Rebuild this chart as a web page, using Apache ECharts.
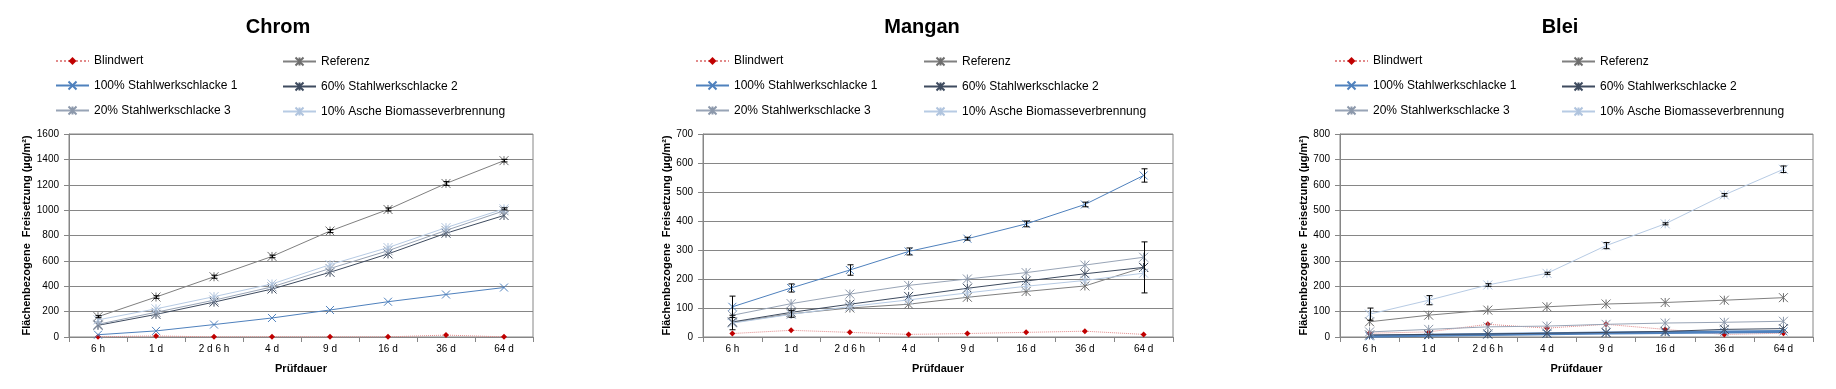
<!DOCTYPE html>
<html>
<head>
<meta charset="utf-8">
<script src="https://cdn.jsdelivr.net/npm/echarts@6/dist/echarts.min.js"></script>
<style>
html,body{margin:0;padding:0;background:#fff;}
#main{width:1836px;height:389px;}
</style>
</head>
<body>
<div id="main"></div>
<script>
// ---------- DATA ----------
const categories = ['6 h', '1 d', '2 d 6 h', '4 d', '9 d', '16 d', '36 d', '64 d'];
const seriesNames = ['Blindwert', 'Referenz', '100% Stahlwerkschlacke 1', '60% Stahlwerkschlacke 2', '20% Stahlwerkschlacke 3', '10% Asche Biomasseverbrennung'];
const chartTitles = ['Chrom', 'Mangan', 'Blei'];
const yMax = [1600, 700, 800];
const yInterval = [200, 100, 100];

// Chrom
const chromBlindwert = [2, 8, 1, 2, 1, 1, 15, 1];
const chromReferenz = [160, 315, 475, 635, 835, 1005, 1210, 1390];
const chromSWS1 = [18, 48, 98, 150, 213, 278, 335, 390];
const chromSWS2 = [92, 178, 275, 378, 510, 655, 818, 958];
const chromSWS3 = [100, 195, 290, 395, 540, 680, 840, 995];
const chromAsche = [135, 222, 318, 418, 570, 705, 862, 1010];
const chromErrReferenz = [8, 10, 12, 10, 12, 12, 15, 10];
const chromErrAsche = [0, 0, 0, 0, 0, 0, 0, 8];

// Mangan
const manBlindwert = [12, 23, 16, 9, 12, 16, 20, 9];
const manReferenz = [50, 80, 100, 113, 137, 157, 176, 240];
const manSWS1 = [104, 169, 231, 295, 339, 390, 457, 557];
const manSWS2 = [52, 85, 113, 140, 168, 193, 218, 240];
const manSWS3 = [75, 115, 148, 178, 200, 222, 248, 275];
const manAsche = [48, 78, 105, 128, 152, 175, 195, 220];
const manErrSWS1 = [37, 14, 18, 12, 5, 10, 8, 23];
const manErrReferenz = [25, 12, 0, 0, 0, 0, 0, 88];

// Blei
const bleiBlindwert = [15, 20, 50, 35, 50, 30, 10, 15];
const bleiReferenz = [60, 86, 106, 119, 130, 136, 145, 155];
const bleiSWS1 = [3, 7, 10, 13, 16, 18, 20, 22];
const bleiSWS2 = [8, 10, 12, 15, 18, 22, 30, 33];
const bleiSWS3 = [20, 30, 40, 43, 50, 55, 58, 62];
const bleiAsche = [90, 145, 205, 251, 360, 446, 560, 661];
const bleiErrAsche = [24, 18, 5, 4, 12, 4, 5, 13];

const chartData = [
  [chromBlindwert, chromReferenz, chromSWS1, chromSWS2, chromSWS3, chromAsche],
  [manBlindwert, manReferenz, manSWS1, manSWS2, manSWS3, manAsche],
  [bleiBlindwert, bleiReferenz, bleiSWS1, bleiSWS2, bleiSWS3, bleiAsche]
];
const chartErrors = [
  [[chromReferenz, chromErrReferenz], [chromAsche, chromErrAsche]],
  [[manSWS1, manErrSWS1], [manReferenz, manErrReferenz]],
  [[bleiAsche, bleiErrAsche]]
];

// ---------- STYLE / LAYOUT ----------
const FONT = 'Liberation Sans';
const gridPos = [
  {left: 69, width: 464},
  {left: 703, width: 470},
  {left: 1340, width: 473}
];
const titleX = [273, 917, 1555];
const legendX = [[55, 282], [695, 923], [1334, 1561]];
const yNameGap = [37, 31, 29];

const STAR = 'path://M0,0L10,10M10,0L0,10M5,0L5,10';
const XMARK = 'path://M0,0L10,10M10,0L0,10';
const styles = [
  {line: '#E28A8A', mark: '#C00000', symbol: 'diamond', size: 6, type: 'dotted', fill: true},
  {line: '#808080', mark: '#6E6E6E', symbol: STAR, size: 9, type: 'solid'},
  {line: '#4F81BD', mark: '#4F81BD', symbol: XMARK, size: 8, type: 'solid'},
  {line: '#3E4B5F', mark: '#3E4B5F', symbol: STAR, size: 9, type: 'solid'},
  {line: '#98A4B6', mark: '#8C98AB', symbol: STAR, size: 9, type: 'solid'},
  {line: '#B7CBE4', mark: '#B0C4DE', symbol: STAR, size: 9, type: 'solid'}
];

const option = {
  animation: false,
  backgroundColor: '#fff',
  textStyle: {fontFamily: FONT},
  title: [], legend: [], grid: [], xAxis: [], yAxis: [], series: []
};

for (let c = 0; c < 3; c++) {
  option.title.push({
    text: chartTitles[c], left: titleX[c], top: 12, textAlign: 'center',
    textStyle: {fontFamily: FONT, fontWeight: 'bold', fontSize: 20, color: '#000'}
  });
  option.grid.push({
    left: gridPos[c].left, width: gridPos[c].width, top: 134, height: 203,
    show: true, borderColor: '#868686', borderWidth: 1, backgroundColor: 'transparent'
  });
  option.xAxis.push({
    type: 'category', gridIndex: c, data: categories, boundaryGap: true,
    name: 'Prüfdauer', nameLocation: 'middle', nameGap: 26,
    nameTextStyle: {fontFamily: FONT, fontWeight: 'bold', fontSize: 11, color: '#000'},
    axisLine: {lineStyle: {color: '#868686'}},
    axisTick: {show: true, length: 5, lineStyle: {color: '#868686'}},
    axisLabel: {fontFamily: FONT, fontSize: 10, color: '#000', margin: 7, interval: 0},
    splitLine: {show: false}
  });
  option.yAxis.push({
    type: 'value', gridIndex: c, min: 0, max: yMax[c], interval: yInterval[c],
    name: 'Flächenbezogene  Freisetzung (µg/m²)', nameLocation: 'middle', nameGap: yNameGap[c],
    nameRotate: 90,
    nameTextStyle: {fontFamily: FONT, fontWeight: 'bold', fontSize: 11, color: '#000'},
    axisLine: {show: true, lineStyle: {color: '#868686'}},
    axisTick: {show: true, length: 5, lineStyle: {color: '#868686'}},
    axisLabel: {fontFamily: FONT, fontSize: 10, color: '#000', margin: 10, formatter: v => String(v)},
    splitLine: {show: true, lineStyle: {color: '#868686', width: 1}}
  });

  const leftCol = [0, 2, 4].map(i => seriesNames[i] + '#' + c);
  const rightCol = [1, 3, 5].map(i => seriesNames[i] + '#' + c);
  [leftCol, rightCol].forEach((col, k) => {
    option.legend.push({
      data: col, orient: 'vertical', left: legendX[c][k], top: 55,
      itemWidth: 33, itemHeight: 10, itemGap: 12, padding: 0,
      formatter: n => n.split('#')[0],
      textStyle: {fontFamily: FONT, fontSize: 12, color: '#000'},
      selectedMode: false
    });
  });

  chartData[c].forEach((vals, i) => {
    const st = styles[i];
    const lw = (c === 2 && i === 2) ? 3 : 1;
    option.series.push({
      type: 'line', name: seriesNames[i] + '#' + c,
      xAxisIndex: c, yAxisIndex: c, data: vals,
      symbol: st.symbol, symbolSize: st.size, showAllSymbol: true,
      lineStyle: {color: st.line, width: lw, type: st.type},
      itemStyle: st.fill ? {color: st.mark, borderWidth: 0}
                         : {color: 'none', borderColor: st.mark, borderWidth: 1},
      emphasis: {disabled: true}, z: 2 + i
    });
  });

  const errData = [];
  chartErrors[c].forEach(([vals, errs]) => {
    vals.forEach((v, j) => { if (errs[j] > 0) errData.push([j, v - errs[j], v + errs[j]]); });
  });
  option.series.push({
    type: 'custom', name: 'err' + c, xAxisIndex: c, yAxisIndex: c,
    data: errData, encode: {x: 0, y: [1, 2]}, z: 20, silent: true,
    renderItem: function (params, api) {
      const x = api.value(0);
      const lo = api.coord([x, api.value(1)]);
      const hi = api.coord([x, api.value(2)]);
      const px = Math.round(lo[0]) + 0.5;
      const w = 3;
      const s = {stroke: '#000', lineWidth: 1};
      return {type: 'group', children: [
        {type: 'line', shape: {x1: px, y1: lo[1], x2: px, y2: hi[1]}, style: s},
        {type: 'line', shape: {x1: px - w, y1: lo[1], x2: px + w, y2: lo[1]}, style: s},
        {type: 'line', shape: {x1: px - w, y1: hi[1], x2: px + w, y2: hi[1]}, style: s}
      ]};
    }
  });
}

const chart = echarts.init(document.getElementById('main'), null, {renderer: 'canvas'});
chart.setOption(option);
</script>
</body>
</html>
